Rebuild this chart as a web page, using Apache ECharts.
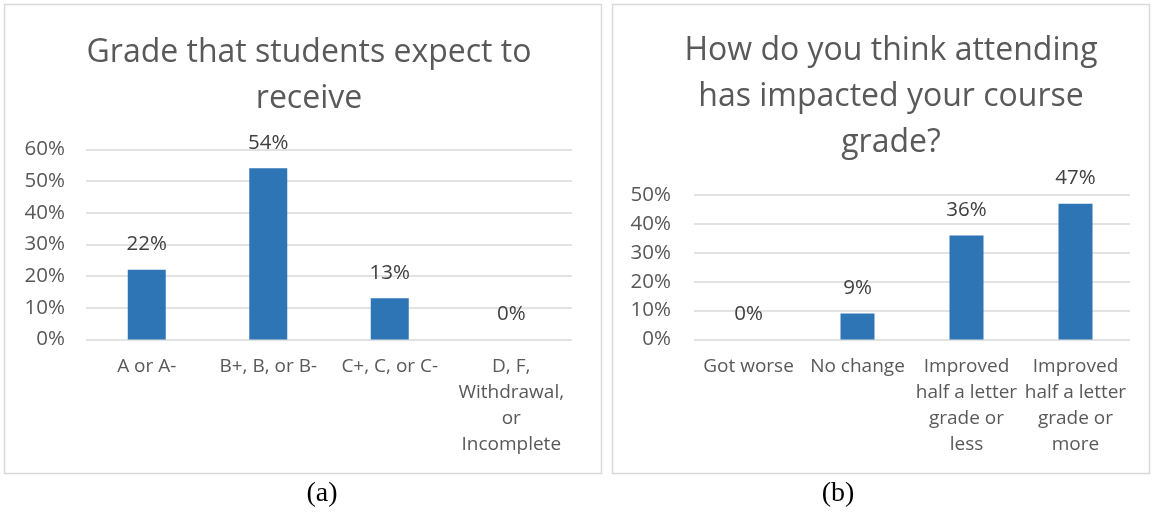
<!DOCTYPE html>
<html>
<head>
<meta charset="utf-8">
<script src="https://cdn.jsdelivr.net/npm/echarts@6/dist/echarts.min.js"></script>
<style>
  html, body { margin: 0; padding: 0; background: #ffffff; }
  #chart { width: 1154px; height: 514px; }
</style>
</head>
<body>
<div id="chart"></div>
<script>
// Panel (a): expected grade
const gradeTitle = 'Grade that students expect to\nreceive';
const gradeCategories = ['A or A-', 'B+, B, or B-', 'C+, C, or C-', 'D, F,\nWithdrawal,\nor\nIncomplete'];
const gradeShares = [22, 54, 13, 0];
const gradeAxisMax = 60;

// Panel (b): perceived impact of attending
const impactTitle = 'How do you think attending\nhas impacted your course\ngrade?';
const impactCategories = ['Got worse', 'No change', 'Improved\nhalf a letter\ngrade or\nless', 'Improved\nhalf a letter\ngrade or\nmore'];
const impactShares = [0, 9, 36, 47];
const impactAxisMax = 50;

const tickStep = 10;
const panelCaptions = ['(a)', '(b)'];

const BAR = '#2E75B6';
const GRID = '#D9D9D9';
const AXIS_TEXT = '#595959';
const FONT = '"Open Sans", sans-serif';

const chart = echarts.init(document.getElementById('chart'), null, { renderer: 'canvas' });

function valueAxis(gridIndex, max, margin) {
  return {
    type: 'value', gridIndex, min: 0, max, interval: tickStep,
    axisLine: { show: false }, axisTick: { show: false },
    splitLine: { lineStyle: { color: GRID, width: 1.5 } },
    axisLabel: { formatter: '{value}%', color: AXIS_TEXT, fontFamily: FONT, fontSize: 20.5, margin }
  };
}

function categoryAxis(gridIndex, data) {
  return {
    type: 'category', gridIndex, data,
    axisLine: { show: false }, axisTick: { show: false },
    axisLabel: {
      color: AXIS_TEXT, fontFamily: FONT, fontSize: 19, lineHeight: 26,
      margin: 14, interval: 0, align: 'center', verticalAlign: 'top'
    }
  };
}

function barSeries(index, data, width) {
  return {
    type: 'bar', xAxisIndex: index, yAxisIndex: index, data,
    barWidth: width,
    itemStyle: { color: BAR },
    label: {
      show: true, position: 'top', distance: 15, formatter: '{c}%',
      color: '#404040', fontFamily: FONT, fontSize: 20.5
    }
  };
}

chart.setOption({
  backgroundColor: '#ffffff',
  animation: false,
  title: [
    {
      text: gradeTitle, left: 304, top: 25, textAlign: 'center',
      textStyle: { color: AXIS_TEXT, fontFamily: FONT, fontSize: 32, fontWeight: 'normal', lineHeight: 46, align: 'center' }
    },
    {
      text: impactTitle, left: 886, top: 23, textAlign: 'center',
      textStyle: { color: AXIS_TEXT, fontFamily: FONT, fontSize: 32, fontWeight: 'normal', lineHeight: 46, align: 'center' }
    }
  ],
  grid: [
    { left: 86, top: 149.3, width: 486, height: 190.2, containLabel: false },
    { left: 694, top: 195, width: 436, height: 144.5, containLabel: false }
  ],
  xAxis: [categoryAxis(0, gradeCategories), categoryAxis(1, impactCategories)],
  yAxis: [valueAxis(0, gradeAxisMax, 21), valueAxis(1, impactAxisMax, 23)],
  series: [barSeries(0, gradeShares, 38), barSeries(1, impactShares, 34)],
  graphic: [
    { type: 'rect', shape: { x: 4.5, y: 4.5, width: 597, height: 469 }, style: { fill: 'none', stroke: GRID, lineWidth: 1.5 }, silent: true },
    { type: 'rect', shape: { x: 612.5, y: 4.5, width: 537, height: 469 }, style: { fill: 'none', stroke: GRID, lineWidth: 1.5 }, silent: true },
    { type: 'text', x: 322, y: 494, style: { text: panelCaptions[0], fill: '#000', font: '28px "Liberation Serif", "Times New Roman", serif', textAlign: 'center', textVerticalAlign: 'middle' } },
    { type: 'text', x: 838, y: 494, style: { text: panelCaptions[1], fill: '#000', font: '28px "Liberation Serif", "Times New Roman", serif', textAlign: 'center', textVerticalAlign: 'middle' } }
  ]
});
</script>
</body>
</html>
